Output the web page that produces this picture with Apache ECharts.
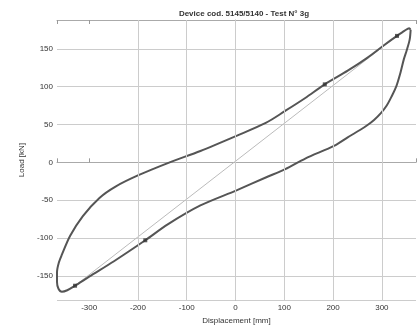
<!DOCTYPE html>
<html lang="en">
<head>
	<meta charset="UTF-8">
	<title>Hysteresis loop</title>
	<style>
       html, body { margin: 0; padding: 0; background: #fff; }
       #chart_box { width: 419px; height: 330px; }
	</style>
	<script type="text/javascript" src="https://cdn.jsdelivr.net/npm/echarts@6/dist/echarts.min.js"></script>
</head>
<body>
	<div id="chart_box"></div>
	<script type="text/javascript">
      // loop (displacement mm / load kN)
      var loopX = [359, 357, 351, 345, 338, 330, 320, 310, 298, 284, 270, 256, 230, 203, 143, 102, 62, 2, -72, -139, -185, -250, -300, -329, -345, -356, -363, -366, -366, -362, -356, -339, -313, -279, -246, -199, -135, -72, 2, 62, 102, 143, 183, 230, 270, 305, 331, 347, 356, 359];
      var loopY = [175, 162, 148, 136, 118, 101, 87, 75, 65, 56, 49, 43, 33, 22, 5, -9, -20, -37, -57, -82, -103, -131, -151, -163, -169, -171, -167, -158, -145, -132, -122, -97, -71, -47, -32, -17, 0, 15, 35, 52, 68, 85, 103, 121, 138, 155, 167, 174, 177, 175];

      // secant line between the peak points
      var secantX = [-329, 331];
      var secantY = [-163, 167];

      // marked points
      var markX = [-329, -185, 183, 331];
      var markY = [-163, -103, 103, 167];

      var gridX = [-200, -100, 0, 100, 200, 300];

      var toPairs = function(xs, ys){
        var out = [];
        for (var i = 0; i < xs.length; i++) out.push([xs[i], ys[i]]);
        return out;
      };

      var chart = echarts.init(document.getElementById('chart_box'));
      var font = 'Liberation Sans';

      var option = {
        animation: false,
        title: {
          text: 'Device cod. 5145/5140 - Test N° 3g',
          left: 239, top: 5, textAlign: 'center',
          textStyle: { fontFamily: font, fontSize: 8, fontWeight: 'bold', color: '#333' }
        },
        grid: { left: 57, right: -5, top: 20, bottom: 24 },
        xAxis: [{
          type: 'value', min: -366, max: 370, splitNumber: 7,
          name: 'Displacement [mm]', nameLocation: 'middle', nameGap: 13,
          nameTextStyle: { fontFamily: font, fontSize: 8, color: '#333' },
          axisLine: { lineStyle: { color: '#aaa' } },
          axisTick: { inside: true, length: 4, lineStyle: { color: '#999' } },
          axisLabel: { fontFamily: font, fontSize: 8, color: '#333', margin: 4,
            formatter: function(v){ return v % 100 === 0 ? v : ''; } },
          splitLine: { show: false }
        }, {
          type: 'value', position: 'top', min: -366, max: 370, splitNumber: 7,
          axisLine: { lineStyle: { color: '#aaa' } },
          axisTick: { inside: true, length: 4, lineStyle: { color: '#999' } },
          axisLabel: { show: false },
          splitLine: { show: false }
        }],
        yAxis: {
          type: 'value', min: -182, max: 188, splitNumber: 7,
          name: 'Load [kN]', nameLocation: 'middle', nameGap: 18,
          nameTextStyle: { fontFamily: font, fontSize: 8, color: '#333' },
          axisLine: { show: true, lineStyle: { color: '#aaa' } },
          axisTick: { show: false },
          axisLabel: { fontFamily: font, fontSize: 8, color: '#333', margin: 4,
            formatter: function(v){ return v % 50 === 0 ? v : ''; } },
          splitLine: { lineStyle: { color: '#ccc', width: 1 } }
        },
        series: [
          {
            type: 'line', data: [], silent: true, z: 1,
            markLine: {
              silent: true, symbol: 'none', label: { show: false },
              lineStyle: { color: '#ccc', width: 1, type: 'solid' },
              data: gridX.map(function(v){ return { xAxis: v }; })
            }
          },
          {
            type: 'line', data: toPairs(secantX, secantY), showSymbol: false,
            lineStyle: { color: '#bbb', width: 1 }, z: 2
          },
          {
            type: 'line', data: toPairs(loopX, loopY), showSymbol: false, smooth: 0.3,
            lineStyle: { color: '#555', width: 2 }, z: 3
          },
          {
            type: 'scatter', data: toPairs(markX, markY), symbol: 'rect', symbolSize: 4,
            itemStyle: { color: '#333' }, z: 4
          }
        ]
      };
      chart.setOption(option);
	</script>
</body>
</html>
